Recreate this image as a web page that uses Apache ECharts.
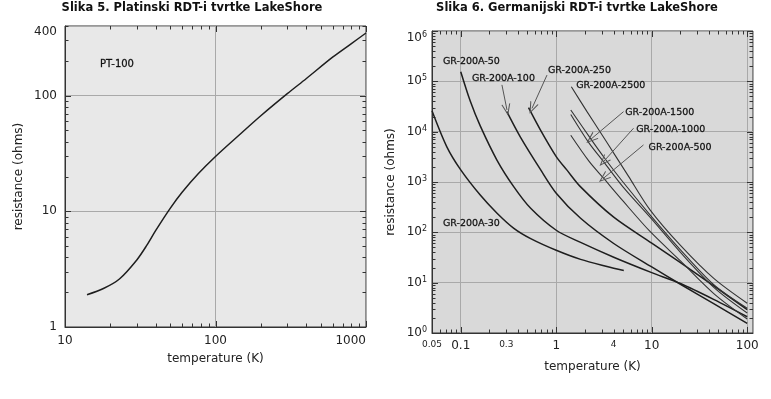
<!DOCTYPE html>
<html>
<head>
<meta charset="utf-8">
<script src="https://cdn.jsdelivr.net/npm/echarts@6/dist/echarts.min.js"></script>
<style>
  html, body { margin: 0; padding: 0; background: #fff; }
  #chart { width: 771px; height: 399px; }
</style>
</head>
<body>
<div id="chart"></div>
<script>
// Slika 5: PT-100
const ptTemps = [14, 18, 23, 30, 35, 40, 50, 60, 77, 100, 150, 200, 300, 400, 600, 800, 1000];
const ptOhms = [1.9, 2.15, 2.6, 3.8, 5.1, 6.8, 10.6, 14.6, 21.2, 29.8, 48, 67, 104, 140, 215, 282, 348];
const ptXLabels = [10, 100, 1000];
const ptYLabels = [1, 10, 100, 400];

// Slika 6: germanium sensors
const gr30T = [0.05, 0.0715, 0.1, 0.16, 0.24, 0.36, 0.54, 1, 1.8, 3.4, 5.1];
const gr30R = [26000, 5000, 1740, 550, 240, 120, 75, 44, 29, 21, 17.5];
const gr50T = [0.1, 0.126, 0.16, 0.24, 0.36, 0.54, 1, 1.8, 4, 10, 20, 45, 100];
const gr50R = [155000, 40000, 13000, 2700, 800, 300, 110, 63, 32, 15.8, 9.6, 4.6, 2.1];
const gr100T = [0.304, 0.42, 0.68, 1, 1.8, 4, 10, 20, 45, 100];
const gr100R = [25000, 7900, 1800, 600, 190, 60, 20.5, 9.3, 3.8, 1.55];
const gr250T = [0.513, 0.68, 1, 1.29, 1.8, 4, 10, 20, 45, 100];
const gr250R = [30000, 11000, 3200, 1740, 800, 200, 61, 25, 8.5, 2.9];
const gr2500T = [1.44, 2.1, 3, 4, 5.7, 9.6, 20, 45, 100];
const gr2500R = [78000, 25000, 8800, 3750, 1310, 280, 55, 12, 3.9];
const gr1500T = [1.42, 2.31, 3.2, 5, 9.6, 20, 45, 100];
const gr1500R = [27000, 7100, 3000, 1000, 223, 45, 9, 3.1];
const gr1000T = [1.42, 2.2, 3.13, 5, 9.6, 20, 45, 100];
const gr1000R = [22000, 6000, 2540, 800, 200, 40, 8, 2.5];
const gr500T = [1.42, 2.2, 3.13, 5, 9.6, 20, 45, 100];
const gr500R = [8500, 2600, 1190, 420, 104, 27, 6, 1.9];
const grXLabels = [0.05, 0.1, 0.3, 1, 4, 10, 100];
const grXSmall = [0.05, 0.3, 4];
const grYLabels = [1, 10, 100, 1000, 10000, 100000, 1000000];

const FONT = 'DejaVu Sans';
const INK = '#222';
const EDGE = '#333';

function pairs(xs, ys) {
  return xs.map((x, i) => [x, ys[i]]);
}
function near(v, list) {
  return list.find(t => Math.abs(v - t) < t * 1e-6);
}
// 1..9 x 10^k values inside [lo, hi]
function logTicks(lo, hi) {
  const out = [];
  for (let e = Math.floor(Math.log10(lo)); e <= Math.ceil(Math.log10(hi)); e++) {
    for (let d = 1; d <= 9; d++) {
      const v = d * Math.pow(10, e);
      if (v >= lo * 0.999 && v <= hi * 1.001) out.push(v);
    }
  }
  return out;
}
function isDecade(v) {
  return Math.abs(Math.log10(v) - Math.round(Math.log10(v))) < 1e-9;
}

function logAxis(grid, pos, min, max, labels, opts) {
  return Object.assign({
    type: 'log', gridIndex: grid, position: pos, min: min, max: max,
    axisLine: { show: true, lineStyle: { color: EDGE, width: 1 } },
    axisTick: { show: false },
    splitLine: { show: true, lineStyle: { color: '#a9a9a9', width: 1 } },
    nameLocation: 'middle',
    nameTextStyle: { fontFamily: FONT, fontSize: 12, color: INK }
  }, opts, {
    axisLabel: Object.assign({ customValues: labels, color: INK, fontFamily: FONT, fontSize: 12 },
      opts.axisLabel || {})
  });
}

const arrowHead = 'path://M5,0 L10,10 L8.8,10 L5,2.4 L1.2,10 L0,10 Z';

function grSeries(name, xs, ys, labelAt, arrow, thin) {
  const s = {
    name: name,
    type: 'line',
    xAxisIndex: 1,
    yAxisIndex: 1,
    data: pairs(xs, ys),
    showSymbol: false,
    smooth: 0.3,
    lineStyle: { color: thin ? '#333' : '#1e1e1e', width: thin ? 1.1 : 1.5 },
    markPoint: {
      symbol: 'circle', symbolSize: 0, silent: true,
      label: { show: true, position: 'right', distance: 0, formatter: name,
        fontFamily: FONT, fontSize: 9.5, color: '#111', textBorderColor: '#333', textBorderWidth: 0.3 },
      data: [{ coord: labelAt }]
    },
    z: 3
  };
  if (arrow) {
    s.markLine = {
      silent: true,
      symbol: ['none', arrowHead],
      symbolSize: [9, 12],
      lineStyle: { color: '#555', width: 1, type: 'solid' },
      label: { show: false },
      data: [[{ coord: arrow[0] }, { coord: arrow[1] }]]
    };
  }
  return s;
}

const chart = echarts.init(document.getElementById('chart'));

chart.setOption({
  animation: false,
  backgroundColor: '#fff',
  title: [
    { text: 'Slika 5. Platinski RDT-i tvrtke LakeShore', left: 187, top: -3, textAlign: 'center',
      textStyle: { fontFamily: FONT, fontSize: 11.5, fontWeight: 'bold', color: '#111' } },
    { text: 'Slika 6. Germanijski RDT-i tvrtke LakeShore', left: 572, top: -3, textAlign: 'center',
      textStyle: { fontFamily: FONT, fontSize: 11.5, fontWeight: 'bold', color: '#111' } }
  ],
  grid: [
    { left: 65, top: 26, width: 301, height: 301, show: true, backgroundColor: '#e8e8e8',
      borderColor: EDGE, borderWidth: 1 },
    { left: 432, top: 31, width: 321, height: 302, show: true, backgroundColor: '#d9d9d9',
      borderColor: EDGE, borderWidth: 1 }
  ],
  xAxis: [
    logAxis(0, 'bottom', 10, 1000, ptXLabels, {
      name: 'temperature (K)', nameGap: 26,
      axisLabel: { margin: 8, alignMaxLabel: 'right', formatter: v => String(near(v, ptXLabels)) }
    }),
    logAxis(1, 'bottom', 0.05, 115, grXLabels, {
      name: 'temperature (K)', nameGap: 28,
      axisLabel: {
        margin: 7,
        formatter: v => {
          const t = near(v, grXLabels);
          return near(v, grXSmall) ? '{s|' + t + '}' : '{b|' + t + '}';
        },
        rich: {
          s: { fontFamily: FONT, fontSize: 9, color: INK },
          b: { fontFamily: FONT, fontSize: 12, color: INK }
        }
      }
    })
  ],
  yAxis: [
    logAxis(0, 'left', 1, 400, ptYLabels, {
      name: 'resistance (ohms)', nameGap: 40,
      axisLabel: { margin: 8, verticalAlignMaxLabel: 'top', formatter: v => String(near(v, ptYLabels)) }
    }),
    logAxis(1, 'left', 1, 1000000, grYLabels, {
      name: 'resistance (ohms)', nameGap: 35,
      axisLabel: {
        margin: 5,
        verticalAlignMaxLabel: 'top',
        formatter: v => '{m|10}{e|' + Math.round(Math.log10(v)) + '}',
        rich: {
          m: { fontFamily: FONT, fontSize: 12, color: INK },
          e: { fontFamily: FONT, fontSize: 8, color: INK, verticalAlign: 'top', padding: [0, 0, 6, 0] }
        }
      }
    })
  ],
  series: [
    {
      name: 'PT-100',
      type: 'line',
      xAxisIndex: 0,
      yAxisIndex: 0,
      data: pairs(ptTemps, ptOhms),
      showSymbol: false,
      smooth: 0.3,
      lineStyle: { color: '#1e1e1e', width: 1.5 },
      markPoint: {
        symbol: 'circle', symbolSize: 0, silent: true,
        label: { show: true, position: 'right', distance: 0, formatter: 'PT-100',
          fontFamily: FONT, fontSize: 10, color: '#111', textBorderColor: '#333', textBorderWidth: 0.3 },
        data: [{ coord: [17.1, 186] }]
      }
    },
    grSeries('GR-200A-30', gr30T, gr30R, [0.065, 147]),
    grSeries('GR-200A-50', gr50T, gr50R, [0.065, 245000]),
    grSeries('GR-200A-100', gr100T, gr100R, [0.131, 115000], [[0.27, 85000], [0.305, 27000]]),
    grSeries('GR-200A-250', gr250T, gr250R, [0.819, 167000], [[0.8, 133000], [0.557, 29000]]),
    grSeries('GR-200A-2500', gr2500T, gr2500R, [1.62, 82000], null, true),
    grSeries('GR-200A-1500', gr1500T, gr1500R, [5.28, 23800], [[5.07, 25000], [2.31, 7100]], true),
    grSeries('GR-200A-1000', gr1000T, gr1000R, [6.88, 11200], [[6.45, 11700], [3.13, 2540]], true),
    grSeries('GR-200A-500', gr500T, gr500R, [9.26, 4900], [[8.2, 5450], [3.13, 1190]], true)
  ]
});

// inward ticks on all four edges, placed through the axes' own scales
function edgeTicks(axisIndex, xr, yr) {
  const finder = { xAxisIndex: axisIndex, yAxisIndex: axisIndex };
  const st = { stroke: EDGE, lineWidth: 1 };
  const out = [];
  const seg = (x1, y1, x2, y2) => out.push({ type: 'line', shape: { x1: x1, y1: y1, x2: x2, y2: y2 }, style: st });
  logTicks(xr[0], xr[1]).forEach(v => {
    const len = isDecade(v) ? 6 : 3.5;
    const a = chart.convertToPixel(finder, [v, yr[0]]);
    const b = chart.convertToPixel(finder, [v, yr[1]]);
    const x = Math.round(a[0]) + 0.5;
    seg(x, a[1], x, a[1] - len);
    seg(x, b[1], x, b[1] + len);
  });
  logTicks(yr[0], yr[1]).forEach(v => {
    const len = isDecade(v) ? 6 : 3.5;
    const a = chart.convertToPixel(finder, [xr[0], v]);
    const b = chart.convertToPixel(finder, [xr[1], v]);
    const y = Math.round(a[1]) + 0.5;
    seg(a[0], y, a[0] + len, y);
    seg(b[0], y, b[0] - len, y);
  });
  return out;
}

chart.setOption({
  graphic: [{
    type: 'group',
    silent: true,
    z: 100,
    children: edgeTicks(0, [10, 1000], [1, 400]).concat(edgeTicks(1, [0.05, 115], [1, 1000000]))
  }]
});
</script>
</body>
</html>
